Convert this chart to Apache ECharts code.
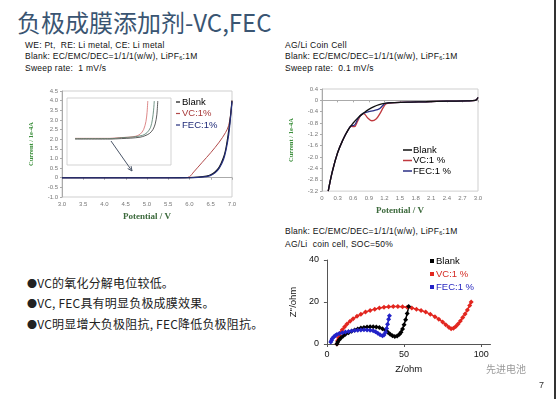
<!DOCTYPE html>
<html>
<head>
<meta charset="utf-8">
<script src="https://cdn.jsdelivr.net/npm/echarts@6/dist/echarts.min.js"></script>
<style>
body{margin:0;background:#fff;}
#page{position:relative;width:556px;height:399px;overflow:hidden;background:#fff;font-family:"Liberation Sans",Arial,sans-serif;color:#111;}
.t{position:absolute;white-space:nowrap;}
#title{left:17px;top:8px;font-family:"Noto Sans CJK SC",sans-serif;font-size:24px;line-height:27px;color:#3a5572;}
.note{font-size:8.5px;line-height:10.5px;letter-spacing:0.25px;color:#111;}
.note sub{font-size:5.5px;vertical-align:-1px;}
.bul{left:27px;font-family:"Noto Sans CJK SC",sans-serif;font-size:12px;line-height:14px;letter-spacing:0.2px;color:#222;}
.bul span{font-size:10px;}
.box{position:absolute;}
</style>
</head>
<body>
<div id="page">
  <div class="t" id="title">负极成膜添加剂-VC,FEC</div>

  <div class="t note" style="left:25px;top:40px">WE: Pt,&nbsp; RE: Li metal, CE: Li metal<br>Blank: EC/EMC/DEC=1/1/1(w/w), LiPF<sub>6</sub>:1M<br>Sweep rate:&nbsp; 1 mV/s</div>
  <div class="t note" style="left:285px;top:40px">AG/Li Coin Cell<br>Blank: EC/EMC/DEC=1/1/1(w/w), LiPF<sub>6</sub>:1M<br>Sweep rate:&nbsp; 0.1 mV/s</div>
  <div class="t note" style="left:285px;top:226px">Blank: EC/EMC/DEC=1/1/1(w/w), LiPF<sub>6</sub>:1M<br>AG/Li&nbsp; coin cell, SOC=50%</div>

  <div class="t bul" style="top:276px"><span>●</span>VC的氧化分解电位较低。</div>
  <div class="t bul" style="top:296px"><span>●</span>VC, FEC具有明显负极成膜效果。</div>
  <div class="t bul" style="top:317px"><span>●</span>VC明显增大负极阻抗, FEC降低负极阻抗。</div>

  <div class="box" id="c1" style="left:0;top:80px;width:280px;height:150px"></div>
  <div class="box" id="c2" style="left:280px;top:80px;width:220px;height:140px"></div>
  <div class="box" id="c3" style="left:280px;top:250px;width:276px;height:130px"></div>

  <div class="t" style="left:486px;top:361px;font-family:'Noto Sans CJK SC',sans-serif;font-size:10px;color:#999">先进电池</div>
  <div class="t" style="left:539px;top:380px;font-size:9px;color:#333">7</div>
  <div style="position:absolute;left:554px;top:0;width:2px;height:399px;background:#333"></div>
</div>

<script>
// LSV (Pt electrode), potential V vs current 1e-4A
var lsvBlank = [[3.0,0],[5.5,0],[6.0,0.01],[6.2,0.03],[6.4,0.08],[6.5,0.15],[6.6,0.3],[6.7,0.55],[6.8,1.05],[6.85,1.45],[6.9,2.1],[6.95,2.9],[7.0,4.0]];
var lsvVC = [[3.0,0],[5.9,0],[6.0,0.05],[6.1,0.3],[6.3,0.8],[6.5,1.3],[6.7,1.85],[6.85,2.35],[6.92,2.7],[6.97,3.3],[7.0,4.0]];
var lsvFEC = [[3.0,-0.01],[5.5,-0.01],[6.0,0],[6.2,0.02],[6.4,0.06],[6.5,0.12],[6.6,0.25],[6.7,0.5],[6.8,0.95],[6.86,1.45],[6.92,2.2],[6.96,3.0],[7.0,3.95]];

// inset (zoomed)
var insBlank = [[3.0,-0.06],[4.5,-0.06],[5.0,-0.04],[5.4,-0.02],[5.8,0.02],[6.0,0.08],[6.2,0.18],[6.35,0.35],[6.45,0.6],[6.52,1.0],[6.56,1.6]];
var insVC = [[3.0,-0.03],[4.5,-0.03],[4.9,0.0],[5.3,0.02],[5.6,0.06],[5.8,0.15],[5.95,0.35],[6.05,0.7],[6.1,1.1],[6.13,1.6]];
var insFEC = [[3.0,-0.04],[4.6,-0.04],[5.0,0.0],[5.5,0.03],[5.9,0.1],[6.1,0.22],[6.25,0.45],[6.33,0.8],[6.38,1.2],[6.41,1.6]];

// CV on graphite, first cathodic scan
var cvBlank = [[0.12,-3.2],[0.2,-2.5],[0.3,-1.85],[0.4,-1.4],[0.5,-1.05],[0.6,-0.8],[0.7,-0.6],[0.8,-0.45],[0.9,-0.32],[1.0,-0.22],[1.1,-0.15],[1.2,-0.11],[1.4,-0.08],[1.7,-0.06],[2.0,-0.05],[2.4,-0.03],[2.8,-0.02],[2.95,0],[3.0,0.1]];
var cvVC = [[0.12,-3.2],[0.2,-2.5],[0.3,-1.85],[0.4,-1.4],[0.5,-1.05],[0.56,-0.92],[0.62,-0.93],[0.68,-0.75],[0.75,-0.52],[0.8,-0.47],[0.88,-0.62],[0.96,-0.72],[1.04,-0.66],[1.12,-0.45],[1.18,-0.25],[1.24,-0.12],[1.4,-0.08],[1.7,-0.06],[2.0,-0.05],[2.4,-0.03],[2.8,-0.02],[2.95,0],[3.0,0.1]];
var cvFEC = [[0.12,-3.2],[0.2,-2.5],[0.3,-1.85],[0.4,-1.4],[0.5,-1.05],[0.56,-0.9],[0.62,-0.88],[0.7,-0.62],[0.8,-0.45],[0.9,-0.4],[1.0,-0.36],[1.1,-0.3],[1.16,-0.2],[1.22,-0.11],[1.4,-0.08],[1.7,-0.06],[2.0,-0.05],[2.4,-0.03],[2.8,-0.02],[2.95,0],[3.0,0.1]];

// EIS Nyquist, Z / Z'' (ohm)
var eisBlankX = [6.5,7,8,9,10.5,12,14,16,18,20,22,24,26,28,30,32,34,36,38,39.5,41,42.5,44,45.5,47,48,49,50,51,52,53];
var eisBlankY = [0,1,2,2.8,3.8,4.6,5.4,6.1,6.7,7.2,7.6,7.9,8.1,8.2,8.2,8.1,7.8,7.3,6.5,5.6,4.6,3.9,3.6,3.8,4.6,5.6,7.2,9.2,11.6,14.5,17.8];
var eisVCX = [6.5,7,7.5,8,9,10,11.5,13,15,17,19.5,22,25,28,31,34,37,40,43,46,49,52,55,58,61,64,67,70,72.5,75,77,79,80.5,82,83.5,85,86.5,88,89.5,91,92.5,93.5];
var eisVCY = [0,1.5,3,4.2,5.5,6.8,8.2,9.5,10.8,12,13.2,14.2,15.2,16,16.6,17.1,17.5,17.7,17.8,17.8,17.7,17.5,17.1,16.6,16,15.2,14.2,13,11.8,10.5,9.2,8,7.3,7.5,8.3,9.5,11,12.6,14.3,16.2,18.3,20];
var eisFECX = [2.5,3,3.5,4.5,5.5,6.5,8,10,12,14,16,18,20,22,24,26,28,30,31.5,33,34.5,36,37,38,38.7,39.3,40,40.5];
var eisFECY = [1,1.8,2.6,3.4,4,4.5,5,5.4,5.7,6,6.2,6.4,6.6,6.7,6.8,6.7,6.6,6.3,5.8,5.1,4.4,3.9,4.3,5.6,7.4,9.4,11.8,13.5];
var eisXTicks = [0, 50, 100];
var eisYTicks = [0, 20, 40];

function pairs(xs, ys) {
  var out = [];
  for (var i = 0; i < xs.length; i++) out.push([xs[i], ys[i]]);
  return out;
}
function fmt1(v) {
  if (Math.abs(v) < 1e-9) return '0';
  return v.toFixed(1);
}

var greenTitle = {color: '#3c8f3c', fontFamily: 'Liberation Serif', fontWeight: 'bold', fontSize: 6.5};
var potTitle = {color: '#3d6a3d', fontFamily: 'Liberation Serif', fontWeight: 'bold', fontSize: 9};
var smallLab = {fontSize: 6, color: '#777', fontFamily: 'Liberation Sans'};

// ---------- chart 1 : LSV ----------
var chart1 = echarts.init(document.getElementById('c1'));
chart1.setOption({
  animation: false,
  grid: [
    {left: 62, top: 11, width: 170, height: 106, show: true, borderColor: '#cfcfcf', borderWidth: 1},
    {left: 75, top: 21, width: 93, height: 55, show: true, borderColor: '#d5d5d5', borderWidth: 0.5, backgroundColor: '#fff'}
  ],
  xAxis: [
    {gridIndex: 0, type: 'value', min: 3.0, max: 7.0, interval: 0.5,
     name: 'Potential / V', nameLocation: 'middle', nameGap: 14, nameTextStyle: potTitle,
     axisLine: {lineStyle: {color: '#aaa'}}, axisTick: {length: 2, lineStyle: {color: '#aaa'}},
     axisLabel: Object.assign({margin: 4, formatter: fmt1}, smallLab), splitLine: {show: false}},
    {gridIndex: 1, type: 'value', min: 3.0, max: 7.0, interval: 0.5,
     axisLine: {lineStyle: {color: '#ccc', width: 0.5}}, axisTick: {show: false},
     axisLabel: {fontSize: 3.5, color: '#999', margin: 2, formatter: fmt1}, splitLine: {show: false}}
  ],
  yAxis: [
    {gridIndex: 0, type: 'value', min: -1.0, max: 4.5, interval: 0.5,
     name: 'Current / 1e-4A', nameLocation: 'middle', nameGap: 27, nameTextStyle: greenTitle,
     axisLine: {show: true, lineStyle: {color: '#aaa'}}, axisTick: {show: true, length: 2, lineStyle: {color: '#aaa'}},
     axisLabel: Object.assign({margin: 4, formatter: fmt1}, smallLab), splitLine: {show: false}},
    {gridIndex: 1, type: 'value', min: -0.8, max: 1.6, interval: 0.2,
     axisLine: {show: true, lineStyle: {color: '#ccc', width: 0.5}}, axisTick: {show: false},
     axisLabel: {fontSize: 3.5, color: '#999', margin: 2, formatter: fmt1}, splitLine: {show: false}}
  ],
  legend: {
    left: 171, top: 12, orient: 'vertical', icon: 'rect', itemWidth: 4, itemHeight: 1.2, itemGap: 1.5,
    textStyle: {fontSize: 9.5, fontFamily: 'Liberation Sans', padding: [0, 0, 0, -3]},
    data: [
      {name: 'Blank', textStyle: {color: '#000'}},
      {name: 'VC:1%', textStyle: {color: '#a83a3a'}},
      {name: 'FEC:1%', textStyle: {color: '#1f2a78'}}
    ]
  },
  graphic: [
    {type: 'rect', z: 1, shape: {x: 67, y: 18, width: 104, height: 67}, style: {fill: '#fff', stroke: '#c8c8c8', lineWidth: 0.8}},
    {type: 'line', z: 10, shape: {x1: 111, y1: 61, x2: 132, y2: 91}, style: {stroke: '#4b5668', lineWidth: 1}},
    {type: 'polyline', z: 10, shape: {points: [[127.7, 88.5], [132, 91], [131.1, 86.1]]}, style: {stroke: '#4b5668', lineWidth: 1, fill: null}}
  ],
  series: [
    {name: 'Blank', type: 'line', xAxisIndex: 0, yAxisIndex: 0, data: lsvBlank, smooth: 0.3, showSymbol: false, color: '#111', lineStyle: {width: 1.2}, z: 4},
    {name: 'VC:1%', type: 'line', xAxisIndex: 0, yAxisIndex: 0, data: lsvVC, smooth: 0.3, showSymbol: false, color: '#b24a4a', lineStyle: {width: 1}, z: 3},
    {name: 'FEC:1%', type: 'line', xAxisIndex: 0, yAxisIndex: 0, data: lsvFEC, smooth: 0.3, showSymbol: false, color: '#25307e', lineStyle: {width: 1.2}, z: 4},
    {name: 'insBlank', type: 'line', xAxisIndex: 1, yAxisIndex: 1, data: insBlank, smooth: 0.3, showSymbol: false, color: '#333', lineStyle: {width: 0.8}, z: 5},
    {name: 'insVC', type: 'line', xAxisIndex: 1, yAxisIndex: 1, data: insVC, smooth: 0.3, showSymbol: false, color: '#d46a6a', lineStyle: {width: 0.8}, z: 5},
    {name: 'insFEC', type: 'line', xAxisIndex: 1, yAxisIndex: 1, data: insFEC, smooth: 0.3, showSymbol: false, color: '#4f7a68', lineStyle: {width: 0.8}, z: 5}
  ]
});

// ---------- chart 2 : CV ----------
var chart2 = echarts.init(document.getElementById('c2'));
chart2.setOption({
  animation: false,
  grid: {left: 34, top: 9, width: 164, height: 103, show: true, borderColor: '#cfcfcf', borderWidth: 1},
  xAxis: {type: 'value', min: 0, max: 3.0, interval: 0.3,
    name: 'Potential / V', nameLocation: 'middle', nameGap: 12, nameTextStyle: potTitle,
    axisLine: {lineStyle: {color: '#aaa'}}, axisTick: {length: 2, lineStyle: {color: '#aaa'}},
    axisLabel: Object.assign({margin: 4, formatter: fmt1}, smallLab), splitLine: {show: false}},
  yAxis: {type: 'value', min: -3.2, max: 0.4, interval: 0.4,
    name: 'Current / 1e-4A', nameLocation: 'middle', nameGap: 27, nameTextStyle: greenTitle,
    axisLine: {show: true, lineStyle: {color: '#aaa'}}, axisTick: {show: true, length: 2, lineStyle: {color: '#aaa'}},
    axisLabel: Object.assign({margin: 4, formatter: fmt1}, smallLab), splitLine: {show: false}},
  legend: {
    left: 118, top: 60, orient: 'vertical', icon: 'rect', itemWidth: 9, itemHeight: 1.5, itemGap: 0.5,
    textStyle: {fontSize: 9.5, color: '#000', fontFamily: 'Liberation Sans', padding: [0, 0, 0, -4]},
    data: ['Blank', 'VC:1 %', 'FEC:1 %']
  },
  series: [
    {name: 'VC:1 %', type: 'line', data: cvVC, smooth: 0.4, showSymbol: false, color: '#c0393f', lineStyle: {width: 1.3}},
    {name: 'FEC:1 %', type: 'line', data: cvFEC, smooth: 0.4, showSymbol: false, color: '#2b2f86', lineStyle: {width: 1.3}},
    {name: 'Blank', type: 'line', data: cvBlank, smooth: 0.4, showSymbol: false, color: '#111', lineStyle: {width: 1.3}}
  ]
});

// ---------- chart 3 : EIS ----------
var chart3 = echarts.init(document.getElementById('c3'));
var eisLab = {fontSize: 9, color: '#111', fontFamily: 'Liberation Sans'};
chart3.setOption({
  animation: false,
  grid: {left: 42, top: 10, width: 168.5, height: 84},
  xAxis: {type: 'value', min: 0, max: 106,
    name: 'Z/ohm', nameLocation: 'middle', nameGap: 19, nameTextStyle: {fontSize: 9.5, color: '#111', fontFamily: 'Liberation Sans'},
    axisLine: {lineStyle: {color: '#555'}},
    axisTick: {length: 3, customValues: eisXTicks, lineStyle: {color: '#555'}},
    axisLabel: Object.assign({margin: 6, customValues: eisXTicks}, eisLab), splitLine: {show: false}},
  yAxis: {type: 'value', min: 0, max: 40, interval: 20,
    name: "Z''/ohm", nameLocation: 'middle', nameGap: 22, nameTextStyle: {fontSize: 9.5, color: '#111', fontFamily: 'Liberation Sans'},
    axisLine: {show: true, lineStyle: {color: '#555'}}, axisTick: {show: true, length: 3, lineStyle: {color: '#555'}},
    axisLabel: Object.assign({margin: 8, customValues: eisYTicks}, eisLab), splitLine: {show: false}},
  legend: {
    left: 145, top: 1, orient: 'vertical', icon: 'rect', itemWidth: 4, itemHeight: 4, itemGap: 3,
    textStyle: {fontSize: 9.5, fontFamily: 'Liberation Sans', padding: [0, 0, 0, -3]},
    data: [
      {name: 'Blank', textStyle: {color: '#000'}},
      {name: 'VC:1 %', textStyle: {color: '#d42a22'}},
      {name: 'FEC:1 %', textStyle: {color: '#2828c0'}}
    ]
  },
  series: [
    {name: 'VC:1 %', type: 'line', data: pairs(eisVCX, eisVCY), symbol: 'diamond', symbolSize: 5, color: '#e2261f', lineStyle: {width: 1.5}},
    {name: 'Blank', type: 'line', data: pairs(eisBlankX, eisBlankY), symbol: 'diamond', symbolSize: 5, color: '#000', lineStyle: {width: 1.5}},
    {name: 'FEC:1 %', type: 'line', data: pairs(eisFECX, eisFECY), symbol: 'diamond', symbolSize: 5, color: '#2323c8', lineStyle: {width: 1.5}}
  ]
});
</script>
</body>
</html>
